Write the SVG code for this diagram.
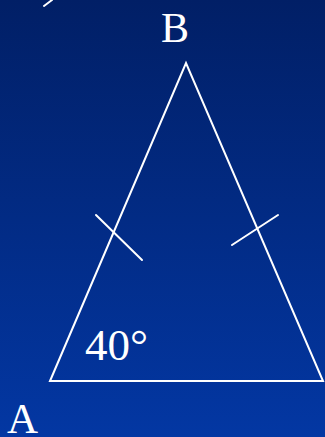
<svg xmlns="http://www.w3.org/2000/svg" width="325" height="437" viewBox="0 0 325 437">
<defs>
<linearGradient id="bg" x1="0" y1="0" x2="0" y2="1">
<stop offset="0" stop-color="#011f66"/>
<stop offset="1" stop-color="#0337a3"/>
</linearGradient>
</defs>
<style>
.ln{stroke:#fff;stroke-width:2;fill:none;stroke-linecap:round;stroke-linejoin:miter}
.lbl{font-family:"Liberation Serif","Times New Roman",serif;fill:#fff}
</style>
<rect width="325" height="437" fill="url(#bg)"/>
<line class="ln" x1="44" y1="6" x2="52" y2="0" stroke-width="3"/>
<g id="triangle">
<polygon class="ln" points="50,381 186,63 323,381"/>
</g>
<g id="connectors">
<line class="ln" x1="96" y1="215" x2="142" y2="260"/>
<line class="ln" x1="232" y1="245" x2="278" y2="215"/>
</g>
<g id="labelB"><text class="lbl" x="161" y="42" font-size="42">B</text></g>
<g id="labelA"><text class="lbl" x="7" y="433" font-size="43">A</text></g>
<g id="angle"><text class="lbl" x="85" y="360" font-size="45">40°</text></g>
</svg>
